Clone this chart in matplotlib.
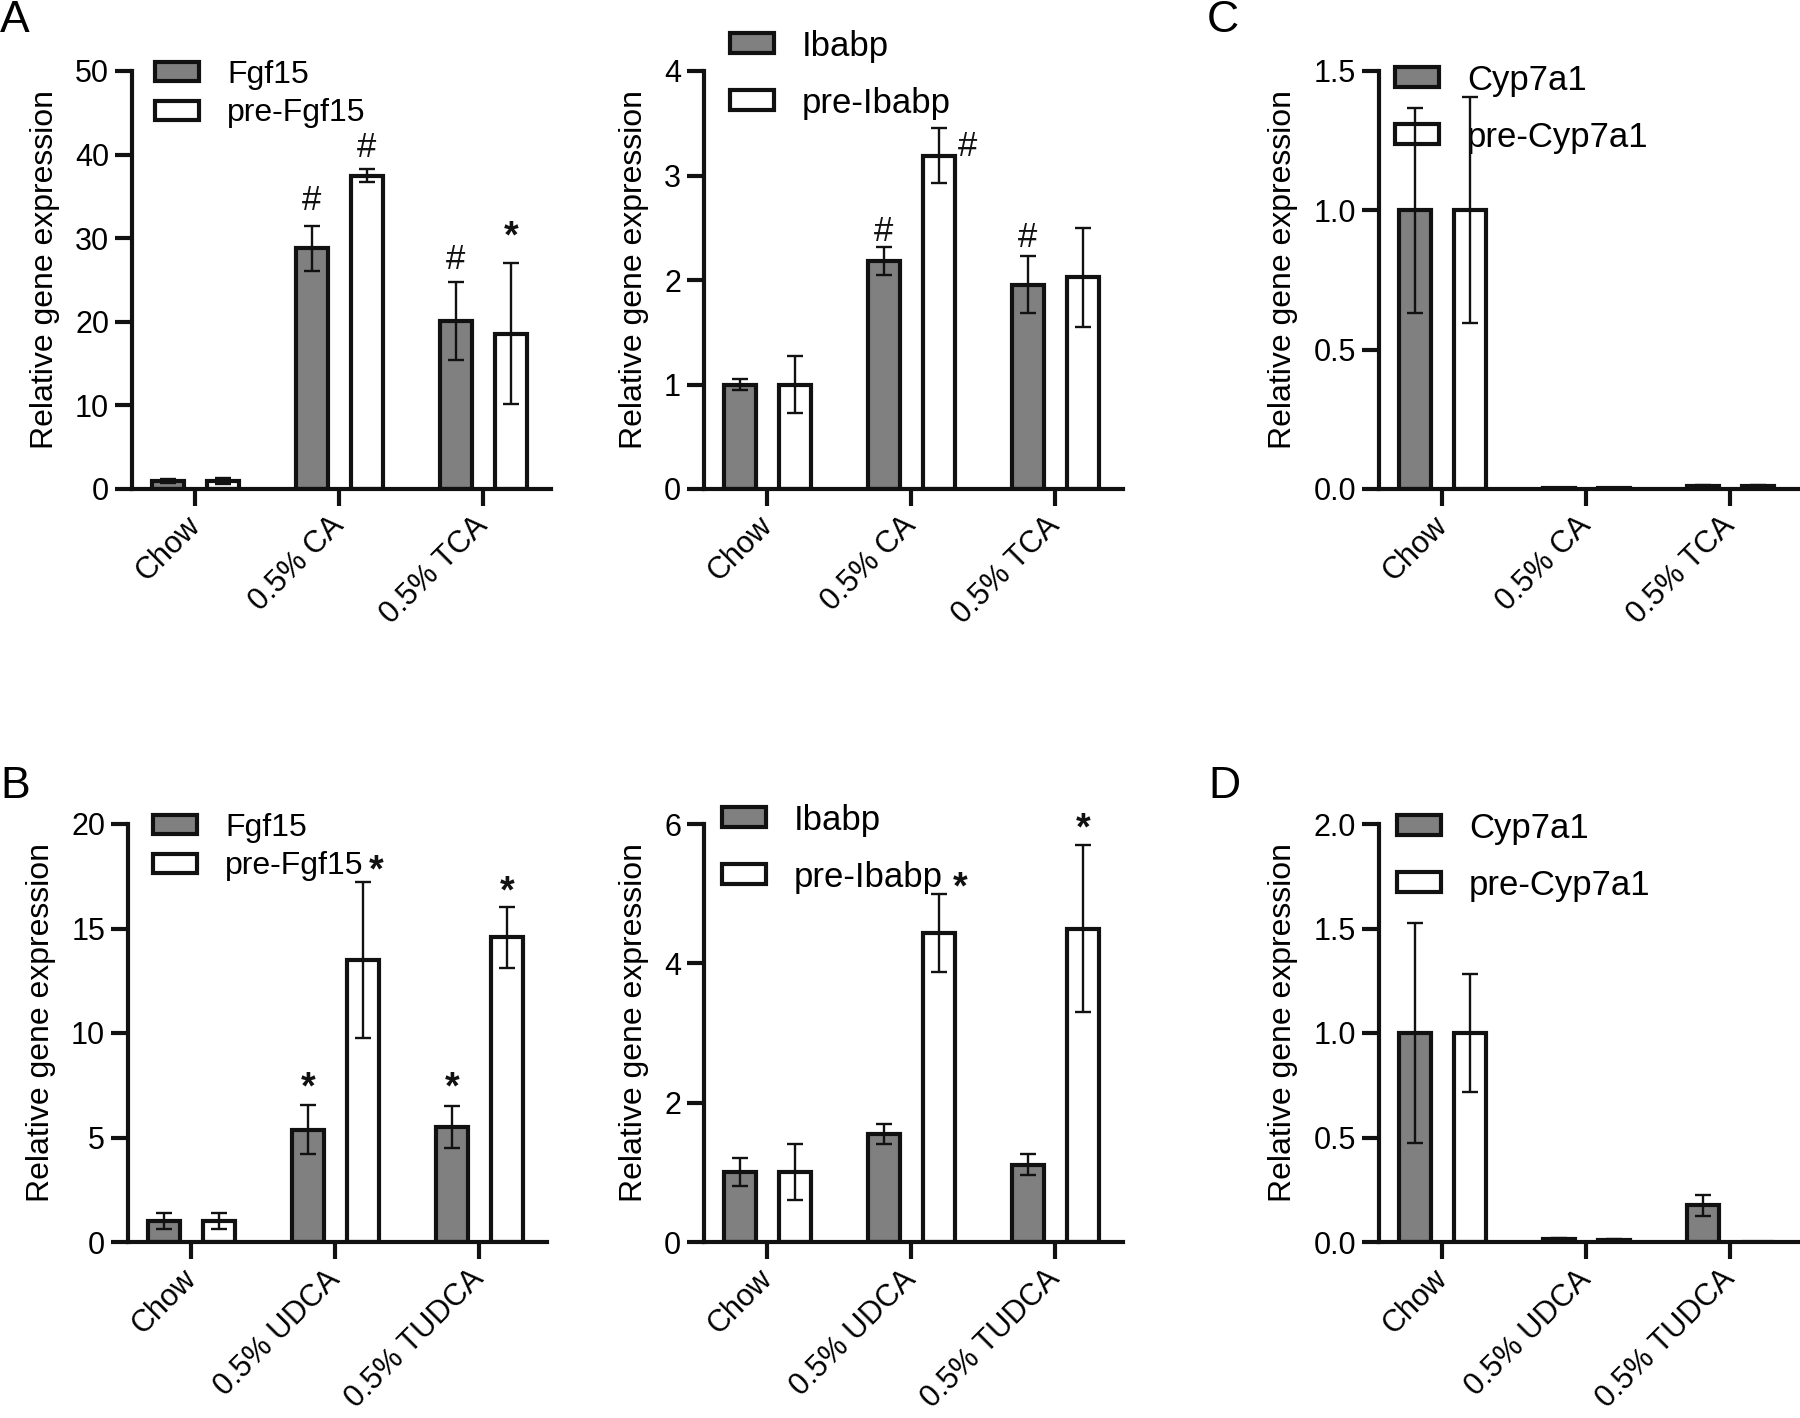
import matplotlib
matplotlib.use('Agg')
import matplotlib.pyplot as plt
from matplotlib.ticker import FormatStrFormatter
import numpy as np

plt.rcParams['font.family'] = ['Liberation Sans', 'DejaVu Sans']

W, H = 1800, 1418

# Groups
groupsA = ['Chow', '0.5% CA', '0.5% TCA']
groupsB = ['Chow', '0.5% UDCA', '0.5% TUDCA']

# Panel A (top row)
fgf15A = [1.0, 28.8, 20.1]
fgf15A_err = [0.25, 2.7, 4.7]
preFgf15A = [1.0, 37.5, 18.6]
preFgf15A_err = [0.35, 0.8, 8.4]

ibabpA = [1.0, 2.18, 1.955]
ibabpA_err = [0.05, 0.135, 0.275]
preIbabpA = [1.0, 3.19, 2.025]
preIbabpA_err = [0.27, 0.26, 0.475]

cypA = [1.0, 0.003, 0.012]
cypA_err = [0.367, 0.001, 0.004]
preCypA = [1.0, 0.002, 0.01]
preCypA_err = [0.405, 0.001, 0.003]

# Panel B (bottom row)
fgf15B = [1.0, 5.38, 5.5]
fgf15B_err = [0.38, 1.19, 1.0]
preFgf15B = [1.0, 13.5, 14.58]
preFgf15B_err = [0.4, 3.73, 1.45]

ibabpB = [1.0, 1.55, 1.11]
ibabpB_err = [0.2, 0.14, 0.15]
preIbabpB = [1.0, 4.43, 4.5]
preIbabpB_err = [0.4, 0.56, 1.2]

cypB = [1.0, 0.015, 0.175]
cypB_err = [0.525, 0.004, 0.05]
preCypB = [1.0, 0.008, 0.0]
preCypB_err = [0.28, 0.004, 0.0]

# Significance marks: (group, series, symbol, y)
marksA1 = [(1, 0, '#', 34.9), (1, 1, '#', 41.2), (2, 0, '#', 27.8), (2, 1, '*', 31.5)]
marksA2 = [(1, 0, '#', 2.49), (1, 1, '#', 3.31), (2, 0, '#', 2.44)]
marksB1 = [(1, 0, '*', 7.9), (1, 1, '*', 18.3), (2, 0, '*', 7.9), (2, 1, '*', 17.3)]
marksB2 = [(1, 1, '*', 5.24), (2, 1, '*', 6.09)]

DARK = '#111111'
GREY = '#808080'
OFF = 0.19
BW = 0.22

fig = plt.figure(figsize=(18, 14.18), dpi=100)


def make_axes(left, top, bottom):
    return fig.add_axes([left / W, 1 - bottom / H, 419 / W, (bottom - top) / H])


def draw_panel(ax, groups, v1, e1, v2, e2, names, ymax, ystep, fmt, marks, marks_dx, leg):
    x = np.arange(len(groups))
    ax.bar(x - OFF, v1, BW, color=GREY, edgecolor=DARK, linewidth=3, label=names[0], zorder=1)
    ax.bar(x + OFF, v2, BW, color='white', edgecolor=DARK, linewidth=3, label=names[1], zorder=1)
    ax.errorbar(x - OFF, v1, yerr=e1, fmt='none', ecolor=DARK, elinewidth=1.7,
                capsize=6, capthick=1.7, zorder=3)
    ax.errorbar(x + OFF, v2, yerr=e2, fmt='none', ecolor=DARK, elinewidth=1.7,
                capsize=6, capthick=1.7, zorder=3)

    for (g, s, sym, y), dx in zip(marks, marks_dx):
        xs = g + (OFF if s else -OFF) + dx
        if sym == '*':
            ax.annotate('*', (xs, y), xytext=(0, -0.58 * 27), textcoords='offset points',
                        ha='center', va='baseline', fontsize=27, fontweight='bold',
                        color=DARK, annotation_clip=False)
        else:
            ax.annotate('#', (xs, y), xytext=(0, -0.36 * 25), textcoords='offset points',
                        ha='center', va='baseline', fontsize=25,
                        color=DARK, annotation_clip=False)

    ax.set_xlim(-0.44, 2.47)
    ax.set_ylim(0, ymax)
    ax.set_yticks(np.arange(0, ymax + ystep / 2, ystep))
    ax.yaxis.set_major_formatter(FormatStrFormatter(fmt))
    ax.set_xticks(x)
    ax.set_xticklabels(groups, rotation=45, ha='right', va='center', rotation_mode='anchor')
    ax.tick_params(axis='both', width=3, length=12.5, color=DARK, labelsize=22, labelcolor='black')
    ax.tick_params(axis='y', pad=4)
    ax.tick_params(axis='x', pad=11)
    ax.set_ylabel('Relative gene expression', fontsize=23, labelpad=11)
    ax.yaxis.label.set_y(0.525)
    for side in ['top', 'right']:
        ax.spines[side].set_visible(False)
    for side in ['left', 'bottom']:
        ax.spines[side].set_linewidth(3)
        ax.spines[side].set_color(DARK)

    # legend, positions in figure pixels
    hx, hy, fs, spacing = leg
    fpx = fs * 100 / 72
    th = 0.95 * fpx
    lg = ax.legend(loc='upper left', bbox_to_anchor=(hx / W, 1 - (hy - th / 2) / H),
                   bbox_transform=fig.transFigure, frameon=False, fontsize=fs,
                   borderpad=0, borderaxespad=0, handlelength=44 / fpx, handleheight=17 / fpx,
                   handletextpad=28 / fpx, labelspacing=(spacing - th) / fpx)
    lg.set_zorder(1.5)


axA1 = make_axes(132, 71, 489)
draw_panel(axA1, groupsA, fgf15A, fgf15A_err, preFgf15A, preFgf15A_err, ['Fgf15', 'pre-Fgf15'],
           50, 10, '%d', marksA1, [0, 0, 0, 0], (155, 75, 23, 39))

axA2 = make_axes(704, 71, 489)
draw_panel(axA2, groupsA, ibabpA, ibabpA_err, preIbabpA, preIbabpA_err, ['Ibabp', 'pre-Ibabp'],
           4, 1, '%d', marksA2, [0, 0.2, 0], (730, 46, 25, 57))

axC = make_axes(1379, 71, 489)
draw_panel(axC, groupsA, cypA, cypA_err, preCypA, preCypA_err, ['Cyp7a1', 'pre-Cyp7a1'],
           1.5, 0.5, '%.1f', [], [], (1395, 80, 25, 57))

axB1 = make_axes(128, 824, 1242)
draw_panel(axB1, groupsB, fgf15B, fgf15B_err, preFgf15B, preFgf15B_err, ['Fgf15', 'pre-Fgf15'],
           20, 5, '%d', marksB1, [0, 0.09, 0, 0], (153, 828, 23, 39))

axB2 = make_axes(704, 824, 1242)
draw_panel(axB2, groupsB, ibabpB, ibabpB_err, preIbabpB, preIbabpB_err, ['Ibabp', 'pre-Ibabp'],
           6, 2, '%d', marksB2, [0.146, 0], (722, 820, 25, 57))

axD = make_axes(1379, 824, 1242)
draw_panel(axD, groupsB, cypB, cypB_err, preCypB, preCypB_err, ['Cyp7a1', 'pre-Cyp7a1'],
           2.0, 0.5, '%.1f', [], [], (1397, 828, 25, 57))

# Panel letters
for letter, lx, ly in [('A', 15, 21), ('B', 15, 787), ('C', 1223, 21), ('D', 1224, 787)]:
    fig.text(lx / W, 1 - ly / H, letter, fontsize=32, ha='center', va='center', color='black')

fig.savefig('out.png', dpi=100)
